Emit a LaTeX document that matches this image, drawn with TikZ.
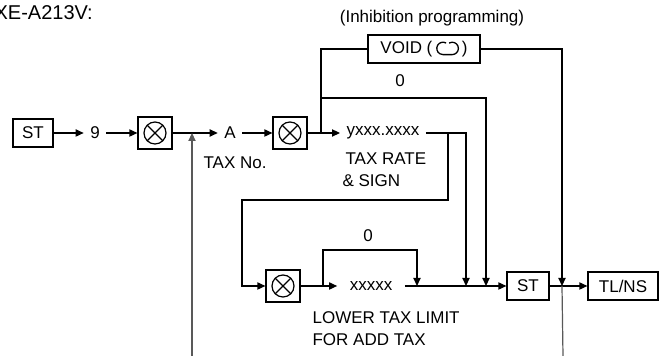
\documentclass[tikz,border=0pt]{standalone}
\usepackage{fontspec}
\setmainfont{Liberation Sans}
\usetikzlibrary{arrows.meta, calc}

\newcommand{\voidmark}{\tikz[baseline=-0.6ex, x=1pt, y=1pt, line width=0.65pt]{\draw ($(-2.3,0)+(60:3.1)$) arc (60:270:3.1) -- (2.3,-3.1) arc (-90:120:3.1);}}

\begin{document}
\begin{tikzpicture}[x=0.5pt, y=-0.5pt, line width=0.6pt,
    font=\fontsize{8.5}{10}\selectfont,
    >={Triangle[length=4pt,width=3.6pt]},
    key/.style={draw, inner sep=0pt, minimum width=#1, minimum height=14pt},
    cross/.style={draw, inner sep=0pt, minimum width=17pt, minimum height=16pt,
        path picture={
            \coordinate (c) at (path picture bounding box.center);
            \draw (c) circle (5.5pt);
            \draw ($(c)+(45:5.5pt)$) -- ($(c)+(225:5.5pt)$);
            \draw ($(c)+(135:5.5pt)$) -- ($(c)+(-45:5.5pt)$);
        }},
    entry/.style={inner xsep=3pt, inner ysep=1pt},
    label/.style={anchor=west, inner sep=0pt},
    faint/.style={draw=black!65}]
    \useasboundingbox (0,0) rectangle (665,356);

    % titles
    \node[label, font=\fontsize{10}{12}\selectfont] (model) at (-6,13) {XE-A213V:};
    \node (inhib) at (432,18) {(Inhibition programming)};

    % upper row
    \node[key=20pt] (st) at (33,133) {ST};
    \node[entry] (nine) at (95,133) {9};
    \node[cross] (xa) at (155,133) {};
    \node[entry] (a) at (230,133) {A};
    \node[label] (taxno) at (203,163) {TAX No.};
    \node[cross] (xb) at (290,133) {};
    \node[entry] (rate) at (383,133) {yxxx.xxxx};
    \node[label] (rate1) at (345,159) {TAX RATE};
    \node[label] (rate2) at (342,181) {\& SIGN};
    \node[key=56pt] (void) at (424,49) {VOID (\,\voidmark\,)};
    \node (zeroa) at (400,81) {0};

    % lower row
    \node[cross] (xc) at (283,286) {};
    \node[entry, inner xsep=6pt] (lim) at (371,286) {xxxxx};
    \node (zerob) at (368,236) {0};
    \node[label] (low1) at (312,318) {LOWER TAX LIMIT};
    \node[label] (low2) at (312,340) {FOR ADD TAX};
    \node[key=21pt] (st2) at (528,286) {ST};
    \node[key=35pt] (tl) at (623,286) {TL/NS};

    \coordinate (in1) at (192,356);
    \coordinate (j2) at (192,133);
    \coordinate (j1) at (321,133);
    \coordinate (j3) at (321,98);
    \coordinate (j8) at (448,133);
    \coordinate (k1) at (242,200);
    \coordinate (j9) at (323,286);
    \coordinate (k2) at (417,250);
    \coordinate (j10) at (417,286);
    \coordinate (j7) at (466,286);
    \coordinate (j6) at (486,286);
    \coordinate (j5) at (562,286);
    \coordinate (out1) at (563,356);

    \draw[->] (st) -- (nine);
    \draw[->] (nine) -- (xa);
    \draw[->] (xa) -- (a);
    \draw[->, faint] (in1) -- (j2);
    \draw[->] (a) -- (xb);
    \draw[->] (xb) -- (rate);
    \draw (j1) |- (void);
    \draw[->] (void) -| (j5);
    \draw[->] (j1) |- (j3) -| (j6);
    \draw[->] (rate) -| (j7);
    \draw[->] (j8) |- (k1) |- (xc);
    \draw[->] (xc) -- (lim);
    \draw[->] (j9) |- (k2) -- (j10);
    \draw[->] (lim) -- (st2);
    \draw[->] (st2) -- (tl);
    \draw[faint] (j5) -- (out1);
\end{tikzpicture}
\end{document}
